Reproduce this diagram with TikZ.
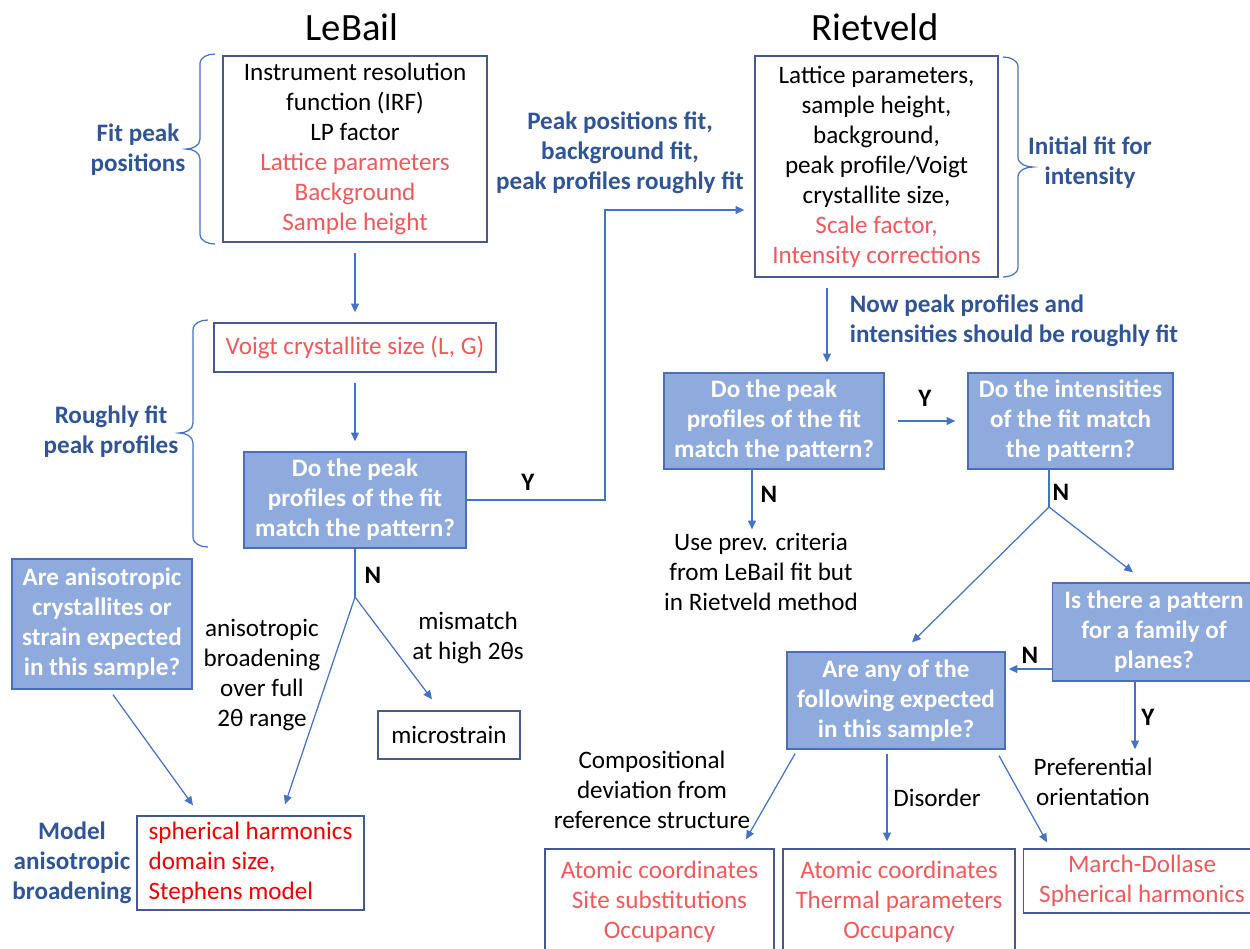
\documentclass[tikz,border=0pt]{standalone}
\usepackage{fontspec}
\setmainfont{Carlito}
\usetikzlibrary{arrows.meta,calc}
\definecolor{qfill}{HTML}{8FAADC}
\definecolor{qline}{HTML}{4A6FB5}
\definecolor{boxline}{HTML}{44598F}
\definecolor{linkblue}{HTML}{4472C4}
\definecolor{noteblue}{HTML}{2F5597}
\definecolor{coral}{HTML}{F0595C}
\definecolor{hotred}{HTML}{F00000}
\newcommand{\bodysize}{\fontsize{14.3}{17.1}\selectfont}

\begin{document}
\begin{tikzpicture}[
  x=0.02cm,y=-0.02cm,
  font=\bodysize,
  plain/.style={draw=boxline,line width=.8pt,align=center,inner sep=2pt,fill=white},
  query/.style={draw=qline,line width=.8pt,fill=qfill,text=white,
                font=\bodysize\bfseries,align=center,inner sep=2pt},
  note/.style={align=center,inner sep=2pt},
  bluenote/.style={align=center,inner sep=2pt,text=noteblue,font=\bodysize\bfseries},
  tag/.style={inner sep=1pt,font=\bodysize\bfseries},
  title/.style={font=\fontsize{22}{26}\selectfont},
  wire/.style={line width=.7pt,draw=linkblue},
  link/.style={wire,-{Triangle[length=5pt,width=4.5pt]}},
  gap/.style={shorten <=.2cm,shorten >=.2cm},
  bracket/.style={draw=linkblue,line width=.7pt}
]
\useasboundingbox (0,0) rectangle (1250,948);

% titles
\node[title] (lebail) at (352,27) {LeBail};
\node[title] (rietveld) at (875,27) {Rietveld};

% LeBail column
\node[plain,minimum width=5.28cm,minimum height=3.72cm] (irf) at (355,149)
  {Instrument resolution\\function (IRF)\\LP factor\\
   \textcolor{coral}{Lattice parameters}\\\textcolor{coral}{Background}\\
   \textcolor{coral}{Sample height}};
\node[plain,minimum width=5.64cm,minimum height=.98cm,text=coral] (voigt) at (355,347.5)
  {Voigt crystallite size (L, G)};
\node[query,minimum width=4.44cm,minimum height=1.92cm] (lbmatch) at (355,500)
  {Do the peak\\profiles of the fit\\match the pattern?};
\node[query,minimum width=3.6cm,minimum height=2.6cm] (aniq) at (102,624)
  {Are anisotropic\\crystallites or\\strain expected\\in this sample?};
\node[plain,minimum width=2.84cm,minimum height=.96cm] (micro) at (449,735)
  {microstrain};
\node[plain,minimum width=4.54cm,minimum height=1.88cm,align=left,text=hotred] (harm) at (250.5,863)
  {spherical harmonics\\domain size,\\Stephens model};

\node[bluenote] (fitpos) at (138,150) {Fit peak\\positions};
\node[bluenote] (rough) at (111,432) {Roughly fit\\peak profiles};
\node[bluenote] (model) at (72,863) {Model\\anisotropic\\broadening};
\node[note] (aniso) at (262,675) {anisotropic\\broadening\\over full\\2θ range};
\node[note] (mism) at (468,638) {mismatch\\at high 2θs};

% braces
\draw[bracket] (215,54) to[out=180,in=90] (200,64) -- (200,139)
  to[out=270,in=0] (186,149) to[out=0,in=90] (200,159) -- (200,234)
  to[out=270,in=180] (215,244);
\draw[bracket] (208,320) to[out=180,in=90] (193,330) -- (193,423)
  to[out=270,in=0] (179,433) to[out=0,in=90] (193,443) -- (193,537)
  to[out=270,in=180] (208,547);

% Rietveld column
\node[plain,minimum width=4.86cm,minimum height=4.42cm] (latt) at (876.5,166.5)
  {Lattice parameters,\\sample height,\\background,\\peak profile/Voigt\\crystallite size,\\
   \textcolor{coral}{Scale factor,}\\\textcolor{coral}{Intensity corrections}};
\node[query,minimum width=4.4cm,minimum height=1.92cm] (rvmatch) at (774,421)
  {Do the peak\\profiles of the fit\\match the pattern?};
\node[query,minimum width=4.1cm,minimum height=1.92cm] (intmatch) at (1070.5,421)
  {Do the intensities\\of the fit match\\the pattern?};
\node[query,minimum width=4.06cm,minimum height=1.96cm] (family) at (1154,632)
  {Is there a pattern\\for a family of\\planes?};
\node[query,minimum width=4.36cm,minimum height=1.94cm] (expect) at (896,700.5)
  {Are any of the\\following expected\\in this sample?};
\node[plain,minimum width=4.58cm,minimum height=2.12cm,text=coral] (subst) at (659.5,902)
  {Atomic coordinates\\Site substitutions\\Occupancy};
\node[plain,minimum width=4.64cm,minimum height=2.12cm,text=coral] (therm) at (899,902)
  {Atomic coordinates\\Thermal parameters\\Occupancy};
\node[plain,minimum width=4.74cm,minimum height=1.28cm,text=coral] (march) at (1142,881)
  {March-Dollase\\Spherical harmonics};

\node[bluenote] (posfit) at (620,153)
  {Peak positions fit,\\background fit,\\peak profiles roughly fit};
\node[bluenote] (initfit) at (1090,163) {Initial fit for\\intensity};
\node[bluenote,align=left,anchor=west] (nowfit) at (846,321)
  {Now peak profiles and\\intensities should be roughly fit};
\node[note] (prev) at (761,572) {Use prev. criteria\\from LeBail fit but\\in Rietveld method};
\node[note] (pref) at (1093,782) {Preferential\\orientation};
\node[note] (comp) at (652,790) {Compositional\\deviation from\\reference structure};
\node[note] (disord) at (937,798) {Disorder};

\draw[bracket] (1003,57) to[out=0,in=90] (1018,67) -- (1018,157)
  to[out=270,in=180] (1033,167) to[out=180,in=90] (1018,177) -- (1018,267)
  to[out=270,in=0] (1003,277);

% Y / N tags
\node[tag] (ylb) at (528,482) {Y};
\node[tag] (nlb) at (373,575) {N};
\node[tag] (nrv) at (769,494) {N};
\node[tag] (yrv) at (925,398) {Y};
\node[tag] (nint) at (1061,492) {N};
\node[tag] (nfam) at (1030,655) {N};
\node[tag] (yfam) at (1148,717) {Y};

% helper points
\coordinate (lfork) at (355,597);
\coordinate (rfork) at (1049,507);
\coordinate (yup) at (605,210);
\coordinate (dcol) at (827,0);
\coordinate (ncol) at (752,0);
\coordinate (nrow) at (0,669);
\coordinate (ycol) at (1135,0);

% LeBail connectors
\draw[link,gap] (irf) -- (voigt);
\draw[link,gap] (voigt) -- (lbmatch);
\draw[link,shorten >=.2cm] (lbmatch.east) -| (yup) -- (yup -| latt.west);
\draw[wire] (lbmatch.south) -- (lfork);
\draw[link] (lfork) -- ($(harm.north)+(34.5,-11)$);
\draw[link] (lfork) -- ($(micro.north)+(-17,-11)$);
\draw[link] ($(aniq.south)+(11,5)$) -- ($(harm.north)+(-57.5,-10)$);

% Rietveld connectors
\draw[link,gap] (latt.south -| dcol) -- (rvmatch.north -| dcol);
\draw[link,shorten <=.26cm,shorten >=.24cm] (rvmatch) -- (intmatch);
\draw[link] (rvmatch.south -| ncol) -- (prev.north -| ncol);
\draw[wire] (intmatch.south -| rfork) -- (rfork);
\draw[link] (rfork) -- ($(expect.north)+(16,-9)$);
\draw[link] (rfork) -- ($(family.north)+(-21,-10)$);
\draw[link,shorten >=.06cm] (family.west |- nrow) -- (expect.east |- nrow);
\draw[link,shorten >=.1cm] (family.south -| ycol) -- (ycol |- pref.north);
\draw[link] ($(expect.south)+(-101,4)$) -- ($(subst.north)+(86.5,-9)$);
\draw[link] ($(expect.south)+(-9,4)$) -- ($(therm.north)+(-12,-7)$);
\draw[link] ($(expect.south)+(103,6)$) -- ($(march.north)+(-95,-6)$);
\end{tikzpicture}
\end{document}
